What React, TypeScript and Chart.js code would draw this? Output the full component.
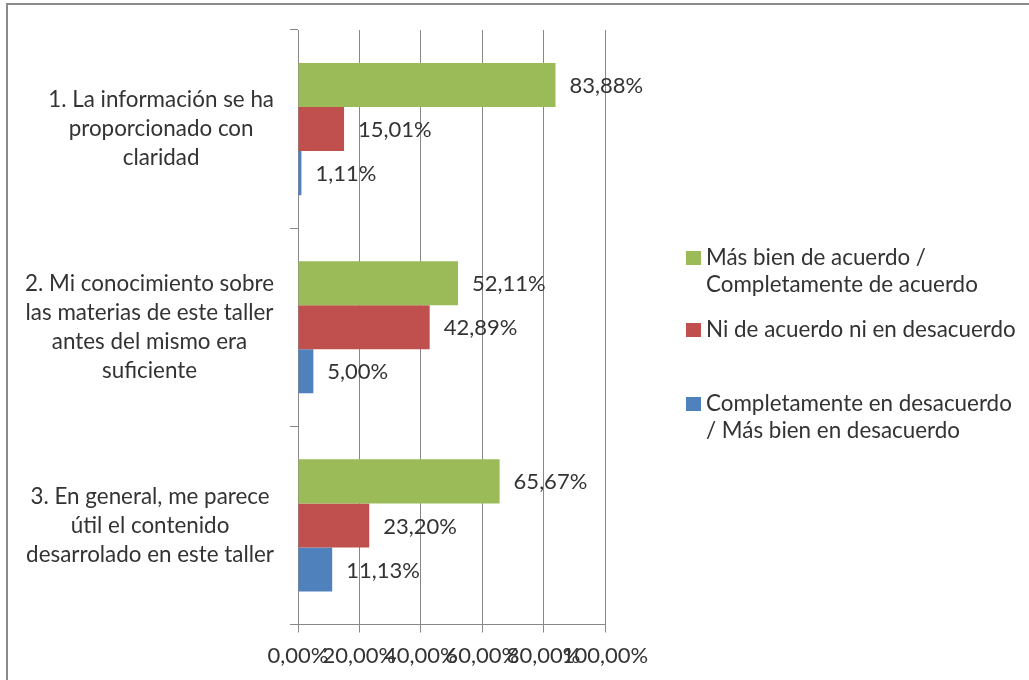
import React, { useEffect, useRef } from 'react';
import { Chart, registerables } from 'chart.js';
Chart.register(...registerables);

const categories: string[][] = [
  ['1. La información se ha', 'proporcionado con', 'claridad'],
  ['2. Mi conocimiento sobre', 'las materias de este taller', 'antes del mismo era', 'suficiente'],
  ['3. En general, me parece', 'útil el contenido', 'desarrolado en este taller'],
];
const seriesNames: string[][] = [
  ['Más bien de acuerdo /', 'Completamente de acuerdo'],
  ['Ni de acuerdo ni en desacuerdo'],
  ['Completamente en desacuerdo', '/ Más bien en desacuerdo'],
];
const seriesColors = ['#9BBB59', '#C0504D', '#4F81BD'];
const agreeValues = [83.88, 52.11, 65.67];
const neutralValues = [15.01, 42.89, 23.2];
const disagreeValues = [1.11, 5.0, 11.13];
const xTicks = [0, 20, 40, 60, 80, 100];

const FONT_FAMILY = 'Lato, "Noto Sans", sans-serif';
const FONT_SIZE = 22.4;
const NUM_FONT_SIZE = 22;
const TEXT_COLOR = '#333333';
const GRID_COLOR = '#888888';

const fmt = (v: number) => v.toFixed(2).replace('.', ',') + '%';

const dataLabelPlugin = {
  id: 'dataLabels',
  afterDatasetsDraw(chart: any) {
    const ctx = chart.ctx;
    ctx.save();
    ctx.font = `${NUM_FONT_SIZE}px ${FONT_FAMILY}`;
    ctx.fillStyle = TEXT_COLOR;
    ctx.textAlign = 'left';
    ctx.textBaseline = 'middle';
    chart.data.datasets.forEach((ds: any, di: number) => {
      const meta = chart.getDatasetMeta(di);
      meta.data.forEach((el: any, i: number) => {
        ctx.fillText(fmt(ds.data[i]), el.x + 14, el.y + 1);
      });
    });
    ctx.restore();
  },
};

const categoryLabelPlugin = {
  id: 'categoryLabels',
  afterDraw(chart: any) {
    const ctx = chart.ctx;
    const yScale = chart.scales.y;
    const lineH = 29;
    const rightEdge = 274;
    ctx.save();
    ctx.font = `${FONT_SIZE}px ${FONT_FAMILY}`;
    ctx.fillStyle = TEXT_COLOR;
    ctx.textAlign = 'center';
    ctx.textBaseline = 'middle';
    categories.forEach((lines, i) => {
      const cy = yScale.getPixelForValue(i);
      const widest = Math.max(...lines.map((l) => ctx.measureText(l).width));
      const cx = rightEdge - widest / 2;
      const y0 = cy - ((lines.length - 1) * lineH) / 2;
      lines.forEach((l, j) => ctx.fillText(l, cx, y0 + j * lineH));
    });
    ctx.restore();
  },
};

const legendPlugin = {
  id: 'customLegend',
  afterDraw(chart: any) {
    const ctx = chart.ctx;
    const firstLineY = [258, 330, 404];
    const lineH = 27;
    ctx.save();
    ctx.font = `${FONT_SIZE}px ${FONT_FAMILY}`;
    ctx.textAlign = 'left';
    ctx.textBaseline = 'middle';
    chart.data.datasets.forEach((ds: any, di: number) => {
      const y = firstLineY[di];
      ctx.fillStyle = ds.backgroundColor;
      ctx.fillRect(686, y - 7, 15, 14);
      ctx.fillStyle = TEXT_COLOR;
      seriesNames[di].forEach((l, j) => ctx.fillText(l, 706, y + j * lineH));
    });
    ctx.restore();
  },
};

export default function App() {
  const ref = useRef<HTMLCanvasElement>(null);
  useEffect(() => {
    if (!ref.current) return;
    const chart = new Chart(ref.current, {
      type: 'bar',
      data: {
        labels: categories.map((c) => c.join(' ')),
        datasets: [
          { label: seriesNames[0].join(' '), data: agreeValues, backgroundColor: seriesColors[0] },
          { label: seriesNames[1].join(' '), data: neutralValues, backgroundColor: seriesColors[1] },
          { label: seriesNames[2].join(' '), data: disagreeValues, backgroundColor: seriesColors[2] },
        ],
      },
      options: {
        indexAxis: 'y',
        animation: false,
        responsive: false,
        maintainAspectRatio: false,
        datasets: { bar: { categoryPercentage: 2 / 3, barPercentage: 1 } },
        layout: { padding: { left: 290, right: 424, top: 30, bottom: 0 } },
        plugins: { legend: { display: false }, tooltip: { enabled: false } },
        scales: {
          x: {
            type: 'linear',
            min: 0,
            max: 100,
            afterBuildTicks: (s: any) => {
              s.ticks = xTicks.map((v) => ({ value: v }));
            },
            afterFit: (s: any) => {
              s.height = 55.5;
            },
            ticks: {
              autoSkip: false,
              maxRotation: 0,
              minRotation: 0,
              padding: 10,
              color: TEXT_COLOR,
              font: { family: FONT_FAMILY, size: NUM_FONT_SIZE },
              callback: (v: any) => fmt(Number(v)),
            },
            grid: { color: GRID_COLOR, tickLength: 8, drawTicks: true },
            border: { color: GRID_COLOR },
          },
          y: {
            type: 'category',
            ticks: { display: false },
            grid: { offset: true, drawOnChartArea: false, tickLength: 8, color: GRID_COLOR },
            border: { color: GRID_COLOR },
          },
        },
      } as any,
      plugins: [dataLabelPlugin, categoryLabelPlugin, legendPlugin],
    });
    return () => chart.destroy();
  }, []);

  return (
    <div style={{ position: 'fixed', left: 0, top: 0, width: 1029, height: 680, overflow: 'hidden', background: '#fff' }}>
      <canvas ref={ref} width={1029} height={680} style={{ position: 'absolute', left: 0, top: 0 }} />
      <div
        style={{
          position: 'absolute',
          left: 6,
          top: 3,
          width: 2000,
          height: 2000,
          borderTop: '2px solid #8a8a8a',
          borderLeft: '2px solid #8a8a8a',
          pointerEvents: 'none',
        }}
      />
    </div>
  );
}
